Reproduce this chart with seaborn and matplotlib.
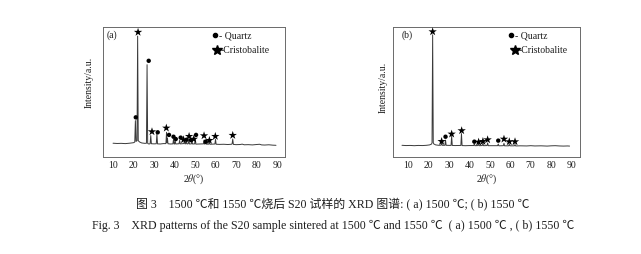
"""
XRD patterns of the S20 sample sintered at 1500 and 1550 C.
"""
import numpy as np
import pandas as pd
import matplotlib
matplotlib.use('Agg')
import matplotlib.pyplot as plt
import seaborn as sns

# ---- data (intensity in arbitrary units, 0-100) ----
two_theta_a = [10, 12, 14, 16, 18, 20, 20.6, 20.9, 21.2, 21.7, 22.0, 22.3, 23, 24, 25.5,
               26.3, 26.6, 26.9, 27.5, 28.1, 28.4, 28.7, 30, 31.1, 31.4, 31.7, 33, 34.5,
               35.8, 36.1, 36.35, 36.55, 36.8, 38, 39.2, 39.5, 39.8, 40.0, 40.3, 40.6,
               42.2, 42.5, 42.8, 44.5, 44.8, 45.1, 45.5, 45.8, 46.1, 46.7, 47.0, 47.3,
               48.2, 48.5, 48.8, 49.8, 50.1, 50.4, 52, 54.1, 54.4, 54.7, 54.9, 55.2, 55.5,
               56.7, 57.0, 57.3, 59.7, 60.0, 60.3, 62, 64, 66, 67.8, 68.1, 68.4, 68.7,
               70, 72, 73, 74, 76, 78, 80, 81.5, 82.5, 84, 86, 88, 89.5]
intensity_a = [10.6, 10.4, 10.5, 10.3, 10.6, 11.0, 11.5, 28, 12, 12.5, 93, 12.5, 11.5, 10.8, 10.5,
               10.6, 71, 10.4, 10.0, 10.2, 16.5, 10.2, 10.1, 10.2, 18, 10.1, 10.0, 10.3,
               10.3, 19, 11, 14.5, 10.2, 10.0, 10.1, 13.5, 10, 10, 12.5, 10,
               10.2, 12.8, 10.1, 10.3, 12, 10.1, 10.2, 12.5, 10, 10.2, 13, 10,
               10.1, 12.5, 10, 10.1, 13.5, 9.9, 10, 10.1, 13, 9.9, 10, 11.8, 9.9,
               9.9, 11.8, 9.8, 10, 13.5, 9.8, 9.7, 9.8, 9.6, 9.8, 10.2, 13.8, 9.7,
               9.5, 9.6, 9.9, 9.4, 9.5, 9.3, 9.6, 9.8, 9.3, 9.2, 9.4, 9.1, 9.0]

two_theta_b = [7, 9, 11, 13, 15, 17, 19, 20.5, 21.5, 21.7, 22.0, 22.3, 22.6, 23.5, 25,
               26.1, 26.4, 26.7, 28.0, 28.3, 28.6, 31.0, 31.3, 31.6, 33, 35.8, 36.1, 36.4,
               38, 40, 42.1, 42.4, 42.7, 44.2, 44.5, 44.8, 46.3, 46.6, 46.9, 48.6, 48.9,
               49.2, 51, 53.8, 54.1, 54.4, 56.6, 56.9, 57.2, 59.2, 59.5, 59.8, 62.0, 62.3,
               62.6, 65, 68, 70, 72, 75, 78, 80, 82, 84, 86, 88, 89]
intensity_b = [9.0, 8.8, 8.9, 8.7, 8.9, 8.8, 9.0, 9.3, 10, 11, 94, 11, 10, 9.3, 9.0,
               9.1, 11, 9.0, 9.0, 13, 9.0, 8.9, 16, 8.9, 8.8, 8.9, 18, 8.8,
               8.7, 8.8, 8.8, 10.2, 8.7, 8.8, 10.2, 8.7, 8.8, 10.5, 8.7, 8.8, 10.8,
               8.7, 8.7, 8.7, 10, 8.6, 8.7, 10.5, 8.6, 8.6, 9.8, 8.6, 8.6, 9.6,
               8.5, 8.6, 8.5, 8.7, 8.5, 8.6, 8.4, 8.6, 8.7, 8.5, 8.4, 8.5, 8.4]

# phase markers (position, height)
quartz_a_x = [21.1, 27.4, 31.8, 37.3, 39.5, 40.6, 43.0, 45.9, 48.0, 50.5, 55.2]
quartz_a_y = [30.5, 74, 19, 17, 15.6, 13.8, 14.9, 13.3, 13.0, 17, 11.8]
cristo_a_x = [22.2, 29.0, 36.0, 44.4, 47.1, 49.4, 54.4, 57.0, 59.9, 68.4]
cristo_a_y = [96, 19.5, 22.3, 13.3, 15.9, 13.8, 16.4, 12.8, 15.9, 16.7]

quartz_b_x = [28.3, 42.4, 54.1]
quartz_b_y = [15.6, 11.8, 12.6]
cristo_b_x = [22.0, 26.4, 31.3, 36.2, 44.5, 46.6, 48.9, 56.9, 59.5, 62.3]
cristo_b_y = [96.4, 12, 17.7, 20.3, 11.5, 12, 13.3, 13.8, 11.8, 11.8]

xticks = [10, 20, 30, 40, 50, 60, 70, 80, 90]

sns.set_theme(style='white')
plt.rcParams['font.family'] = ['Liberation Serif', 'Noto Sans CJK SC', 'DejaVu Sans']
plt.rcParams['mathtext.fontset'] = 'stix'

LINE = '#3a3a3a'
SPINE = '#6a6a6a'
TEXT = '#1e1e1e'

fig = plt.figure(figsize=(6.41, 2.55), dpi=100)
fig.patch.set_facecolor('white')

panels = [
    dict(rect=[103 / 641, 97 / 255, 182 / 641, 130 / 255], xlim=(5.1, 93.9),
         x=two_theta_a, y=intensity_a, qx=quartz_a_x, qy=quartz_a_y,
         cx=cristo_a_x, cy=cristo_a_y, label='(a)', label_x=0.02,
         leg=(0.615, 0.635, 0.625), ylab=(-0.05, 0.58)),
    dict(rect=[393 / 641, 97 / 255, 187 / 641, 130 / 255], xlim=(2.6, 94.1),
         x=two_theta_b, y=intensity_b, qx=quartz_b_x, qy=quartz_b_y,
         cx=cristo_b_x, cy=cristo_b_y, label='(b)', label_x=0.046,
         leg=(0.631, 0.651, 0.652), ylab=(-0.027, 0.54)),
]

for p in panels:
    ax = fig.add_axes(p['rect'])
    df = pd.DataFrame({'two_theta': p['x'], 'intensity': p['y']})
    sns.lineplot(data=df, x='two_theta', y='intensity', ax=ax, color=LINE,
                 linewidth=0.7, estimator=None, sort=False)
    sns.scatterplot(x=p['qx'], y=p['qy'], ax=ax, marker='o', s=10, color='black',
                    edgecolor='none', zorder=3)
    sns.scatterplot(x=p['cx'], y=p['cy'], ax=ax, marker='*', s=40, color='black',
                    edgecolor='none', zorder=3)

    ax.set_xlim(*p['xlim'])
    ax.set_ylim(0, 100)
    ax.set_xticks(xticks)
    ax.set_yticks([])
    ax.tick_params(axis='x', direction='in', length=2, width=0.5, color=SPINE,
                   labelsize=7, pad=2.5, labelcolor=TEXT)
    for s in ax.spines.values():
        s.set_color(SPINE)
        s.set_linewidth(0.7)

    ax.set_xlabel(r'2$\theta$(°)', fontsize=7, labelpad=1.5, color=TEXT)
    ax.set_ylabel('Intensity/a.u.', fontsize=7, color=TEXT)
    ax.yaxis.set_label_coords(*p['ylab'])

    ax.text(p['label_x'], 0.946, p['label'], transform=ax.transAxes, fontsize=7,
            va='center', ha='left', color=TEXT)

    # legend
    dot_x, text_x, star_x = p['leg']
    ax.plot([dot_x], [0.941], marker='o', ms=3, color='black',
            transform=ax.transAxes, clip_on=False)
    ax.text(text_x, 0.941, '- Quartz', transform=ax.transAxes, fontsize=7,
            va='center', ha='left', color=TEXT)
    ax.plot([star_x], [0.825], marker='*', ms=7, color='black',
            transform=ax.transAxes, clip_on=False)
    ax.text(star_x + 0.022, 0.825, '-Cristobalite', transform=ax.transAxes, fontsize=7,
            va='center', ha='left', color=TEXT)

fig.text(333 / 641, 1 - 205 / 255,
         '图 3　1500 ℃和 1550 ℃烧后 S20 试样的 XRD 图谱: ( a) 1500 ℃; ( b) 1550 ℃',
         ha='center', va='center', fontsize=8.6, color=TEXT)
fig.text(333 / 641, 1 - 225.7 / 255,
         'Fig. 3　XRD patterns of the S20 sample sintered at 1500 ℃ and 1550 ℃  ( a) 1500 ℃ , ( b) 1550 ℃',
         ha='center', va='center', fontsize=8.6, color=TEXT)

fig.savefig('out.png', dpi=100, facecolor='white')
